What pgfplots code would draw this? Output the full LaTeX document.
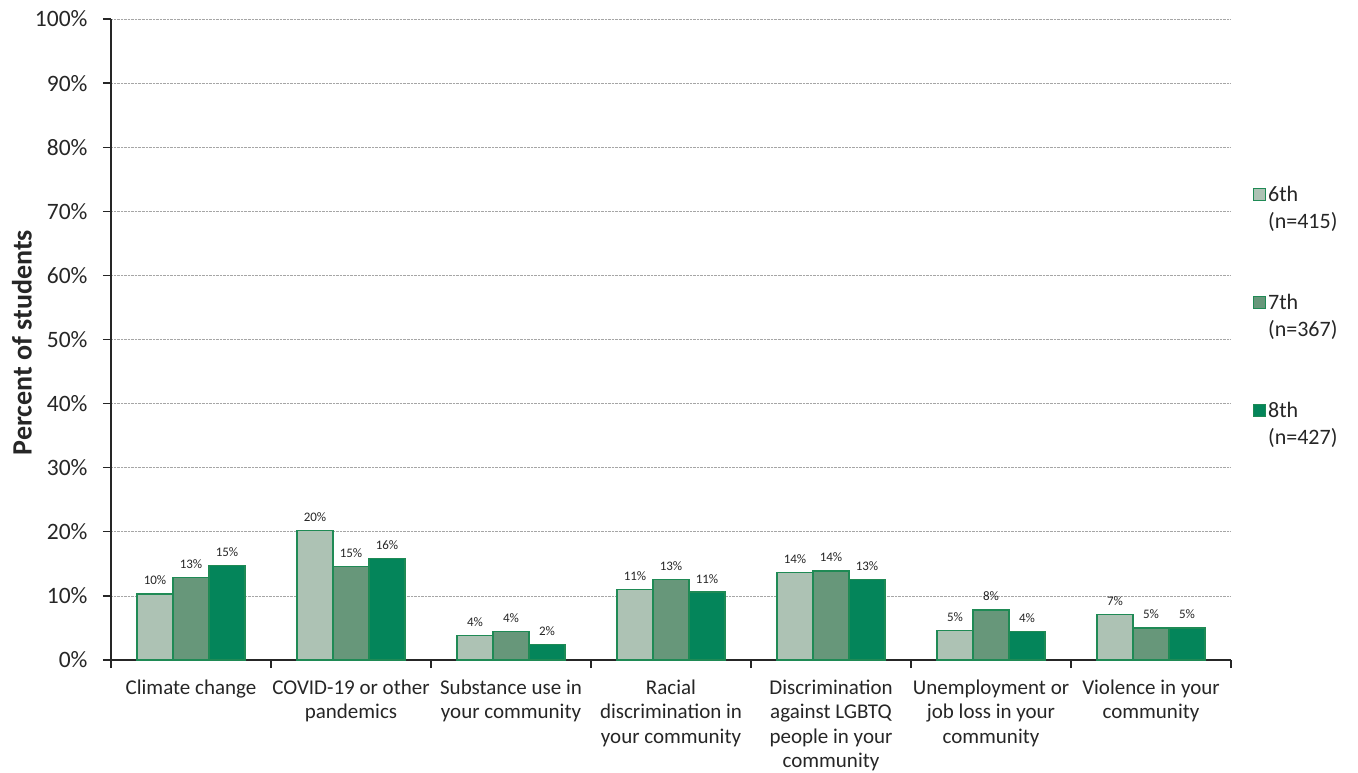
\documentclass[border=0pt]{standalone}
\usepackage{pgfplots}
\pgfplotsset{compat=1.18}
\usepackage{fontspec}
\setmainfont{Carlito}
\definecolor{c6}{HTML}{ADC2B4}
\definecolor{c7}{HTML}{67977A}
\definecolor{c8}{HTML}{04855A}
\definecolor{cb}{HTML}{1F8A55}
\definecolor{txt}{HTML}{262626}
\begin{document}
\begin{tikzpicture}
\begin{axis}[
  scale only axis, width=1120bp, height=641bp,
  xmin=-0.5, xmax=6.5, ymin=0, ymax=100,
  ybar=0pt, bar width=36bp,
  legend image code/.code={\draw[#1,line width=1bp] (0bp,1bp) rectangle (12bp,13bp);},
  /pgf/number format/assume math mode=true,
  axis x line*=bottom, axis y line*=left,
  axis line style={line width=1.2bp, color=black!85},
  tick style={line width=1.2bp, color=black!85},
  tick align=outside,
  major tick length=8bp, minor tick length=8bp,
  xtick={0,...,6},
  major x tick style={draw=none},
  minor xtick={-0.5,0.5,...,6.5},
  xticklabels={{Climate change},{COVID-19 or other\\pandemics},{Substance use in\\your community},{Racial\\discrimination in\\your community},{Discrimination\\against LGBTQ\\people in your\\community},{Unemployment or\\job loss in your\\community},{Violence in your\\community}},
  xticklabel style={font=\fontsize{21bp}{24.5bp}\selectfont, align=center, text=txt, yshift=-8bp},
  ytick={0,10,...,100},
  yticklabel={\pgfmathprintnumber{\tick}\%},
  yticklabel style={font=\fontsize{23.5bp}{27bp}\selectfont, text=txt, xshift=-12bp},
  ymajorgrids, grid style={densely dotted, color=gray!70, line width=0.8bp},
  ylabel={Percent of students},
  ylabel style={font=\fontsize{28bp}{32bp}\selectfont\bfseries, text=txt, at={(axis description cs:-0.0795,0.495)}, anchor=center},
  nodes near coords={\pgfmathprintnumber[fixed,precision=0]{\pgfplotspointmeta}\%},
  nodes near coords style={font=\fontsize{13bp}{15bp}\selectfont, text=txt, yshift=5bp},
  legend style={at={(rel axis cs:1.0196,0.747)}, anchor=north west, draw=none, fill=none, inner sep=0pt, font=\fontsize{22bp}{26.5bp}\selectfont, text=txt, row sep=84bp, cells={anchor=base west}, /tikz/every even column/.append style={column sep=8bp}},
]
\addplot[fill=c6, draw=cb, line width=1.2bp] coordinates {(0,10.3) (1,20.2) (2,3.8) (3,11.0) (4,13.7) (5,4.6) (6,7.1)};
\addlegendentry{\begin{tabular}[t]{@{}l@{}}6th\\(n=415)\end{tabular}}
\addplot[fill=c7, draw=cb, line width=1.2bp] coordinates {(0,12.9) (1,14.6) (2,4.4) (3,12.6) (4,13.9) (5,7.8) (6,5.0)};
\addlegendentry{\begin{tabular}[t]{@{}l@{}}7th\\(n=367)\end{tabular}}
\addplot[fill=c8, draw=cb, line width=1.2bp] coordinates {(0,14.7) (1,15.8) (2,2.4) (3,10.6) (4,12.6) (5,4.4) (6,5.0)};
\addlegendentry{\begin{tabular}[t]{@{}l@{}}8th\\(n=427)\end{tabular}}
\end{axis}
\pgfresetboundingbox
\path ([shift={(-111bp,-112bp)}]current axis.south west) rectangle ([shift={(127bp,19bp)}]current axis.north east);
\end{tikzpicture}
\end{document}
